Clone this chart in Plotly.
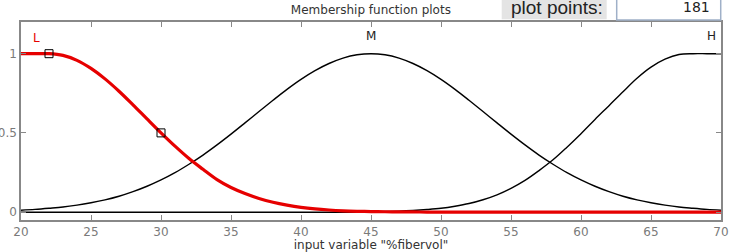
import plotly.graph_objects as go

# ---- data ----
x_vals = [20, 21, 22, 23, 24, 25, 26, 27, 28, 29, 30, 31, 32, 33, 34, 35, 36, 37, 38, 39,
          40, 41, 42, 43, 44, 45, 46, 47, 48, 49, 50, 51, 52, 53, 54, 55, 56, 57, 58, 59,
          60, 61, 62, 63, 64, 65, 66, 67, 68, 69, 70]

l_vals = [1.0, 1.0, 1.0, 0.989, 0.958, 0.907, 0.841, 0.763, 0.677, 0.588,
          0.500, 0.416, 0.338, 0.270, 0.205, 0.155, 0.117, 0.086, 0.062, 0.044,
          0.030, 0.020, 0.013, 0.008, 0.005, 0.003, 0.002, 0.001, 0.001, 0.0,
          0.0, 0.0, 0.0, 0.0, 0.0, 0.0, 0.0, 0.0, 0.0, 0.0,
          0.0, 0.0, 0.0, 0.0, 0.0, 0.0, 0.0, 0.0, 0.0, 0.0, 0.0]

m_vals = [0.012, 0.017, 0.024, 0.032, 0.044, 0.059, 0.077, 0.100, 0.129, 0.163,
          0.203, 0.249, 0.302, 0.360, 0.424, 0.492, 0.563, 0.635, 0.706, 0.775,
          0.838, 0.893, 0.938, 0.972, 0.993, 1.000, 0.993, 0.972, 0.938, 0.893,
          0.838, 0.775, 0.706, 0.635, 0.563, 0.492, 0.424, 0.360, 0.302, 0.249,
          0.203, 0.163, 0.129, 0.100, 0.077, 0.059, 0.044, 0.032, 0.024, 0.017, 0.012]

h_vals = [0.0, 0.0, 0.0, 0.0, 0.0, 0.0, 0.0, 0.0, 0.0, 0.0,
          0.0, 0.0, 0.0, 0.0, 0.0, 0.0, 0.0, 0.0, 0.0, 0.0,
          0.0, 0.0, 0.0, 0.001, 0.001, 0.002, 0.004, 0.006, 0.010, 0.016,
          0.024, 0.037, 0.054, 0.078, 0.109, 0.150, 0.200, 0.262, 0.330, 0.410,
          0.495, 0.585, 0.672, 0.760, 0.845, 0.915, 0.965, 0.995, 1.0, 1.0, 1.0]

marker_x = [22, 30]
marker_y = [1.0, 0.5]

mf_names = ["L", "M", "H"]
mf_label_x = [21.1, 45.0, 69.3]
mf_label_y = [1.10, 1.11, 1.11]
mf_label_colors = ["#e60000", "#222222", "#222222"]

x_ticks = [20, 25, 30, 35, 40, 45, 50, 55, 60, 65, 70]
y_ticks = [0, 0.5, 1]
y_tick_text = ["0", "0.5", "1"]

plot_points = "181"

FONT = "DejaVu Sans"
RED = "#e60000"
GREY = "#888888"

fig = go.Figure()
fig.add_trace(go.Scatter(x=x_vals, y=m_vals, mode="lines",
                         line=dict(color="black", width=1.4, shape="spline"),
                         hoverinfo="skip"))
fig.add_trace(go.Scatter(x=x_vals, y=h_vals, mode="lines",
                         line=dict(color="black", width=1.4, shape="spline"),
                         hoverinfo="skip"))
fig.add_trace(go.Scatter(x=x_vals, y=l_vals, mode="lines",
                         line=dict(color=RED, width=3.2, shape="spline"),
                         hoverinfo="skip"))
fig.add_trace(go.Scatter(x=marker_x, y=marker_y, mode="markers",
                         marker=dict(symbol="square-open", size=8, color="black",
                                     line=dict(width=1, color="black")),
                         hoverinfo="skip"))

for name, lx, ly, col in zip(mf_names, mf_label_x, mf_label_y, mf_label_colors):
    fig.add_annotation(x=lx, y=ly, xref="x", yref="y", text=name, showarrow=False,
                       font=dict(family=FONT, size=12, color=col),
                       xanchor="center", yanchor="middle")

# top-right controls
fig.add_shape(type="rect", xref="paper", yref="paper", x0=0.6867, x1=0.8367,
              y0=1.0136, y1=1.12, fillcolor="#e4e4e4", line=dict(width=0), layer="above")
fig.add_shape(type="rect", xref="paper", yref="paper", x0=0.851, x1=0.9996,
              y0=1.0101, y1=1.13, fillcolor="white",
              line=dict(width=1.5, color="#9fb0c8"), layer="above")
fig.add_annotation(x=0.765, y=1.072, xref="paper", yref="paper", text="plot points:",
                   showarrow=False, font=dict(family="Liberation Sans", size=19, color="#222222"),
                   xanchor="center", yanchor="middle")
fig.add_annotation(x=0.987, y=1.078, xref="paper", yref="paper", text=plot_points,
                   showarrow=False, font=dict(family=FONT, size=14, color="#222222"),
                   xanchor="right", yanchor="middle")

axis_common = dict(showline=True, linecolor=GREY, linewidth=1.5, mirror="ticks",
                   ticks="inside", ticklen=5, tickcolor=GREY, tickwidth=1,
                   showgrid=False, automargin=False,
                   tickfont=dict(family=FONT, size=12, color="#7a7a7a"))

fig.update_layout(
    width=733, height=252,
    margin=dict(l=21, r=12, t=22, b=32),
    plot_bgcolor="white", paper_bgcolor="white",
    showlegend=False,
    title=dict(text="Membership function plots", x=0.506, xanchor="center",
               y=0.96, yanchor="middle",
               font=dict(family=FONT, size=12, color="#333333")),
    xaxis=dict(range=[20, 70], tickvals=x_ticks, zeroline=False,
               title=dict(text='input variable "%fibervol"',
                          font=dict(family=FONT, size=12, color="#333333"),
                          standoff=1),
               **axis_common),
    yaxis=dict(range=[-0.05, 1.2], tickvals=y_ticks, ticktext=y_tick_text,
               zeroline=True, zerolinecolor="black", zerolinewidth=1,
               **axis_common),
)

fig.write_html("out.html")
